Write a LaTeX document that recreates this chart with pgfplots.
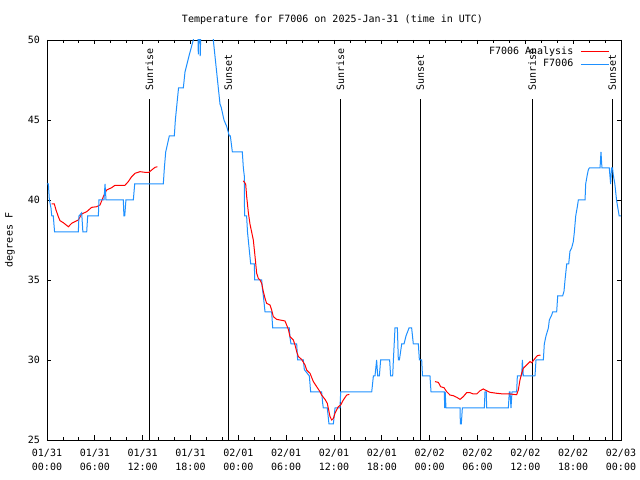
\documentclass[border=0pt]{standalone}
\usepackage{fontspec}
\setmainfont{DejaVu Sans Mono}
\usepackage{pgfplots}
\pgfplotsset{compat=1.18}
\definecolor{gpblue}{RGB}{30,144,255}
\definecolor{gpred}{RGB}{255,0,0}
\begin{document}
\begin{tikzpicture}[font=\fontsize{10bp}{13.5bp}\selectfont]
\path[use as bounding box] (0,0) rectangle (640bp,480bp);
\begin{axis}[
  at={(47bp,40bp)}, anchor=south west,
  scale only axis, width=574bp, height=400bp,
  xmin=0, xmax=72, ymin=25, ymax=50,
  xtick={0,6,...,72}, minor x tick num=2,
  ytick={25,30,...,50},
  xticklabels={{01/31\\00:00},{01/31\\06:00},{01/31\\12:00},{01/31\\18:00},{02/01\\00:00},{02/01\\06:00},{02/01\\12:00},{02/01\\18:00},{02/02\\00:00},{02/02\\06:00},{02/02\\12:00},{02/02\\18:00},{02/03\\00:00}},
  xticklabel style={align=center, anchor=north, inner sep=0pt, yshift=-9bp},
  yticklabel style={anchor=east, inner sep=0pt, xshift=-7bp},
  /pgf/number format/assume math mode=true,
  tick align=inside,
  major tick length=4.5bp, minor tick length=3bp,
  every tick/.style={black, line width=0.8bp},
  axis line style={black, line width=0.8bp},
  legend style={at={(1,1)}, anchor=north east, xshift=-11.7bp, yshift=-4.85bp,
    draw=none, fill=none, inner sep=0pt, outer sep=0pt, row sep=0pt, column sep=7bp,
    nodes={inner sep=0pt, text height=9.8bp, text depth=2.5bp}},
  legend plot pos=right,
  legend cell align=right,
  legend image code/.code={\draw[#1] (0bp,-1bp) -- (28bp,-1bp);},
]
% sunrise / sunset markers
\addplot[black, line width=1bp, forget plot] coordinates {(12.83,25) (12.83,46.31)};
\addplot[black, line width=1bp, forget plot] coordinates {(22.74,25) (22.74,46.31)};
\addplot[black, line width=1bp, forget plot] coordinates {(36.79,25) (36.79,46.31)};
\addplot[black, line width=1bp, forget plot] coordinates {(46.82,25) (46.82,46.31)};
\addplot[black, line width=1bp, forget plot] coordinates {(60.87,25) (60.87,46.31)};
\addplot[black, line width=1bp, forget plot] coordinates {(70.91,25) (70.91,46.31)};
\node[rotate=90, anchor=west, inner sep=0pt, xshift=1.3bp] at (axis cs:12.83,46.75) {Sunrise};
\node[rotate=90, anchor=west, inner sep=0pt, xshift=1.3bp] at (axis cs:22.74,46.75) {Sunset};
\node[rotate=90, anchor=west, inner sep=0pt, xshift=1.3bp] at (axis cs:36.79,46.75) {Sunrise};
\node[rotate=90, anchor=west, inner sep=0pt, xshift=1.3bp] at (axis cs:46.82,46.75) {Sunset};
\node[rotate=90, anchor=west, inner sep=0pt, xshift=1.3bp] at (axis cs:60.87,46.75) {Sunrise};
\node[rotate=90, anchor=west, inner sep=0pt, xshift=1.3bp] at (axis cs:70.91,46.75) {Sunset};

% analysis, segment 1
\addplot[gpred, line width=1bp] table {
0.59 39.75
0.92 39.75
1.13 39.375
1.42 38.96
1.63 38.71
2.05 38.58
2.68 38.33
3.09 38.54
3.51 38.65
3.93 38.75
4.35 39.125
4.98 39.27
5.60 39.54
6.23 39.58
6.65 39.69
7.07 40.21
7.48 40.625
8.11 40.77
8.53 40.92
9.16 40.92
9.78 40.92
10.20 41.15
10.62 41.46
11.04 41.67
11.67 41.77
12.29 41.73
12.79 41.73
13.13 41.875
13.55 42.04
13.84 42.08
};
\addlegendentry{F7006 Analysis}

% station F7006
\addplot[gpblue, line width=1bp] table {
0 41
0.17 41
0.30 40
0.50 39.5
0.60 39
0.79 39
0.95 38
3.93 38
4.01 39
4.35 39.2
4.50 38
4.98 38
5.10 39
6.44 39
6.52 40
7.15 40
7.28 41
7.40 40
9.57 40
9.65 39
9.75 39
9.90 40
10.83 40
11.00 41
14.59 41
14.72 42
14.89 43
15.34 44
15.97 44
16.10 45
16.30 46
16.50 47
17.10 47
17.31 48
17.81 49
18.35 50
18.55 51
18.90 51
18.98 49.1
19.05 51
19.15 51
19.22 49
19.32 51
20.75 51
20.86 50
21.07 49
21.28 48
21.49 47
21.70 46
21.85 45.8
22.20 45
22.54 44.6
22.87 44
23.00 44
23.25 43
24.50 43
24.63 42
24.75 41.5
24.78 39
25.04 39
25.15 38
25.25 37.5
25.45 36.5
25.55 36
26.01 36
26.05 35
26.93 35
27.01 34.5
27.14 34
27.35 33
28.18 33
28.31 32
30.40 32
30.48 31.4
30.61 31
31.32 31
31.44 30
32.15 30
32.28 29.4
32.91 29
33.07 28
34.45 28
34.58 27.3
34.66 27
35.16 27
35.37 26
35.92 26
36.13 27
36.75 27
36.84 28
40.73 28
40.94 29
41.14 29
41.35 30
41.48 29
41.69 29
41.85 30
42.98 30
43.10 29
43.36 29
43.45 30
43.65 32
43.95 32
44.07 30
44.20 30
44.32 30.4
44.49 31
44.78 31
45.03 31.5
45.41 32
45.74 32
45.95 31
46.58 31
46.71 30
47.00 30
47.10 29
48.04 29
48.17 28
49.84 28
49.88 27
49.95 28
50.05 27
51.81 27
51.85 26
51.97 26
52.10 27
54.86 27
54.94 28
55.10 28
55.15 27
57.87 27
57.99 28
58.08 28
58.20 27
58.33 28
58.91 28
59.00 29
59.54 29
59.63 30
59.75 29
61.21 29
61.34 30
62.26 30
62.38 31
62.59 31.5
62.89 32
63.01 32.5
63.30 32.8
63.43 33
63.93 33
64.06 34
64.68 34
64.85 34.3
64.98 35
65.19 36
65.44 36
65.60 36.8
65.81 37
66.02 37.4
66.15 38
66.32 39
66.53 39.6
66.65 40
67.49 40
67.57 41
67.78 41.6
67.91 41.9
68.03 42
69.37 42
69.49 43
69.61 42
70.53 42
70.70 41
70.81 42
70.94 42
71.02 41.6
71.23 41
71.44 40
71.64 39.4
71.77 39
72 39
};
\addlegendentry{F7006}

% analysis, segment 2
\addplot[gpred, line width=1bp, forget plot] table {
24.63 41.2
24.92 41.0
25.05 40.2
25.26 39.2
25.46 38.5
25.67 38.0
25.88 37.5
26.09 36.5
26.30 35.42
26.51 35.10
26.72 35.0
26.93 34.79
27.14 34.27
27.35 33.85
27.55 33.54
27.97 33.44
28.18 33.125
28.39 32.71
28.81 32.54
29.23 32.5
29.85 32.44
30.06 32.19
30.27 31.92
30.48 31.46
30.90 31.25
31.11 30.94
31.32 30.52
31.53 30.21
31.94 30.04
32.36 29.69
32.57 29.375
32.99 29.17
33.41 28.65
33.83 28.33
34.24 28.02
34.45 27.81
34.87 27.54
35.16 27.29
35.50 26.46
35.71 26.25
35.92 26.35
36.13 26.67
36.54 27.08
36.84 27.19
37.17 27.5
37.59 27.81
37.92 27.85
};

% analysis, segment 3
\addplot[gpred, line width=1bp, forget plot] table {
48.67 28.65
49.09 28.60
49.38 28.33
49.80 28.27
50.13 28.02
50.55 27.81
50.97 27.77
51.39 27.67
51.81 27.54
52.22 27.71
52.64 27.96
53.06 27.96
53.48 27.875
53.90 27.875
54.32 28.08
54.73 28.19
55.15 28.08
55.57 27.98
56.41 27.92
57.24 27.875
58.08 27.875
58.91 27.83
59.12 28.125
59.33 28.75
59.54 29.17
59.75 29.48
60.17 29.69
60.59 29.90
60.80 29.83
61.21 30.10
61.50 30.27
61.90 30.31
};
\end{axis}
\node at (332.5bp,460bp) {Temperature for F7006 on 2025-Jan-31 (time in UTC)};
\node[rotate=90] at (10bp,240bp) {degrees F};
\end{tikzpicture}
\end{document}
